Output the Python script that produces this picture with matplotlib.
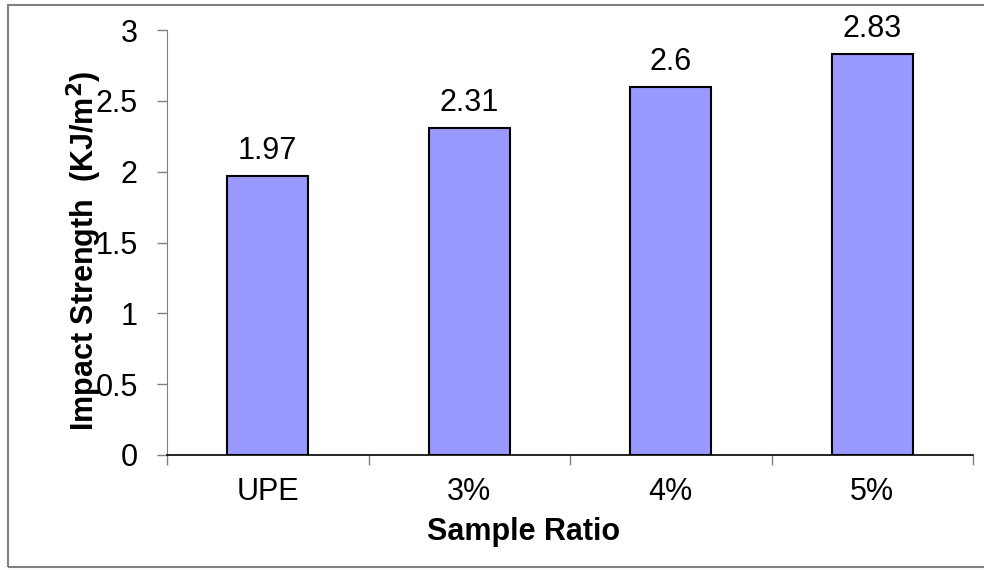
import matplotlib
matplotlib.use("Agg")
import matplotlib.pyplot as plt
from matplotlib.patches import Rectangle

categories = ["UPE", "3%", "4%", "5%"]
values = [1.97, 2.31, 2.6, 2.83]
value_labels = ["1.97", "2.31", "2.6", "2.83"]
yticks = [0, 0.5, 1, 1.5, 2, 2.5, 3]
ytick_labels = ["0", "0.5", "1", "1.5", "2", "2.5", "3"]

plt.rcParams['font.family'] = ['Liberation Sans', 'DejaVu Sans']
FS = 22

fig = plt.figure(figsize=(9.84, 5.70), dpi=100)
fig.patches.append(Rectangle((8/984, 3/570), 1.2, 562/570, transform=fig.transFigure,
                             fill=False, edgecolor='#808080', lw=1.5, zorder=-1))
ax = fig.add_axes([167/984, 115/570, 806/984, 425/570])

x = list(range(len(categories)))
ax.bar(x, values, width=0.40, color='#9999FF', edgecolor='black', linewidth=1.5, zorder=3)
for xi, v, lab in zip(x, values, value_labels):
    ax.annotate(lab, (xi, v), xytext=(0, 7), textcoords='offset points',
                ha='center', va='bottom', fontsize=FS)

ax.set_xlim(-0.5, len(categories) - 0.5)
ax.set_ylim(0, 3)
ax.set_yticks(yticks)
ax.set_yticklabels(ytick_labels, fontsize=FS)
ax.set_xticks(x)
ax.set_xticklabels(categories, fontsize=FS)
ax.set_xticks([i - 0.5 for i in range(len(categories) + 1)], minor=True)
ax.tick_params(axis='x', which='major', length=0, pad=16)
ax.tick_params(axis='x', which='minor', length=7, color='#808080', width=1, direction='out')
ax.tick_params(axis='y', length=7, color='#808080', width=1, pad=14)

for s in ['top', 'right']:
    ax.spines[s].set_visible(False)
ax.spines['left'].set_color('#808080')
ax.spines['bottom'].set_color('black')
ax.spines['bottom'].set_linewidth(1.2)

ax.set_xlabel("Sample Ratio", fontsize=FS, fontweight='bold')
ax.xaxis.set_label_coords(0.442, -0.145)
ax.set_ylabel("Impact Strength  (KJ/m$^\\mathbf{2}$)", fontsize=FS, fontweight='bold')
ax.yaxis.set_label_coords(-0.078, 0.48)

fig.savefig("out.png", dpi=100)
